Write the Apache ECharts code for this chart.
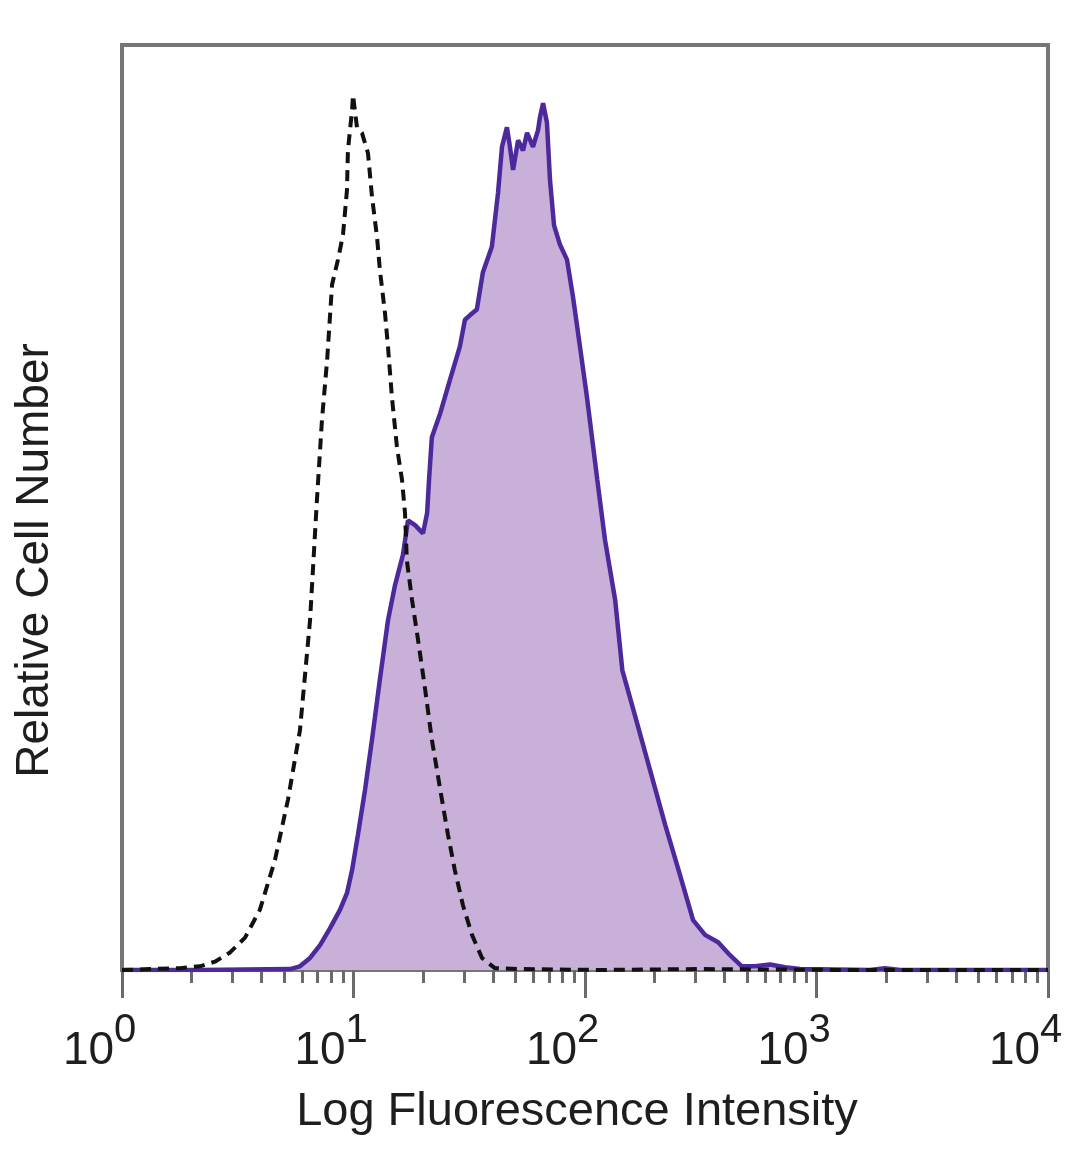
<!DOCTYPE html>
<html>
<head>
<meta charset="utf-8">
<script src="https://cdn.jsdelivr.net/npm/echarts@6/dist/echarts.min.js"></script>
<style>
html,body{margin:0;padding:0;background:#fff;}
#chart{width:1080px;height:1169px;}
</style>
</head>
<body>
<div id="chart"></div>
<script>
// Fluorescence intensity (x, log scale) and relative cell number (y, % of full scale)
const isotypeX = [1, 1.32, 1.78, 2.17, 2.52, 2.93, 3.40, 3.94, 4.58, 5.21, 5.87, 6.49, 6.95, 7.31, 7.69, 8.08, 8.57, 9.01, 9.37, 9.46, 9.86, 9.95, 10.35, 10.88, 11.55, 12.02, 12.64, 13.0, 13.68, 14.09, 14.66, 15.41, 16.2, 16.69, 17.0, 17.9, 19.0, 20.4, 21.8, 23.7, 25.6, 27.4, 29.7, 32.5, 35.9, 40.8, 52.4, 116, 314, 1396, 10000];
const isotypeY = [0, 0.1, 0.2, 0.4, 0.9, 1.9, 3.5, 6.5, 11.9, 18.4, 25.9, 37.8, 50.8, 59.5, 65.9, 74.1, 76.8, 79.5, 84.3, 88.6, 93.0, 94.6, 91.1, 90.5, 88.3, 83.6, 79.2, 75.7, 71.0, 67.4, 61.9, 56.5, 53.0, 49.4, 44.3, 40.0, 35.7, 30.3, 24.9, 19.5, 14.6, 10.8, 7.0, 3.8, 1.3, 0.2, 0.1, 0, 0.1, 0, 0];

const stainX = [1, 2.17, 5.32, 5.87, 6.49, 7.17, 7.91, 8.74, 9.37, 9.86, 10.45, 11.22, 12.02, 13.0, 14.09, 15.11, 16.36, 17.19, 18.44, 19.96, 20.8, 21.2, 21.8, 23.7, 26.1, 28.8, 30.3, 31.9, 34.1, 36.2, 39.6, 42.1, 43.8, 46.0, 47.4, 48.9, 51.4, 54.0, 56.2, 59.6, 62.7, 63.9, 65.9, 68.5, 70.6, 73.5, 78.0, 83.6, 88.7, 95.1, 102, 113, 122, 135, 145, 164, 191, 222, 257, 293, 330, 376, 423, 476, 542, 630, 731, 849, 1702, 1977, 2296, 10000];
const stainY = [0, 0, 0.1, 0.4, 1.3, 2.7, 4.5, 6.5, 8.3, 10.8, 14.6, 19.5, 24.9, 31.4, 37.8, 41.6, 44.9, 48.6, 48.1, 47.2, 49.4, 53.0, 57.6, 60.2, 63.8, 67.4, 70.3, 70.8, 71.4, 75.4, 78.2, 84.0, 89.0, 91.1, 89.0, 86.5, 89.7, 88.6, 90.5, 89.0, 90.8, 92.2, 93.7, 91.6, 85.4, 80.5, 78.4, 76.8, 72.8, 67.4, 61.9, 53.0, 46.5, 40.0, 32.4, 27.6, 21.6, 15.7, 10.3, 5.4, 3.8, 3.0, 1.6, 0.4, 0.4, 0.6, 0.3, 0.1, 0, 0.2, 0, 0];

const majorTicks = [1, 10, 100, 1000, 10000];
const minorTicks = [2, 3, 4, 5, 6, 7, 8, 9, 20, 30, 40, 50, 60, 70, 80, 90, 200, 300, 400, 500, 600, 700, 800, 900, 2000, 3000, 4000, 5000, 6000, 7000, 8000, 9000];
const xTitle = 'Log Fluorescence Intensity';
const yTitle = 'Relative Cell Number';

const FONT = "'Liberation Sans', Arial, sans-serif";
const tickStyle = { color: '#6a6a6a', width: 3 };

const chart = echarts.init(document.getElementById('chart'), null, { renderer: 'canvas' });
chart.setOption({
  animation: false,
  backgroundColor: '#ffffff',
  grid: {
    left: 122, right: 32, top: 45, bottom: 199,
    containLabel: false, outerBoundsMode: 'none',
    show: true, borderColor: '#767676', borderWidth: 4, backgroundColor: '#ffffff'
  },
  xAxis: [
    {
      type: 'log', logBase: 10, min: 1, max: 10000, position: 'bottom',
      axisLine: { show: false },
      splitLine: { show: false },
      axisTick: { show: true, customValues: minorTicks, length: 13, lineStyle: tickStyle },
      axisLabel: {
        show: true, customValues: majorTicks, margin: 41,
        formatter: function (v) {
          const e = Math.round(Math.log10(v));
          return '{b|10}{s|' + e + '}{p|}';
        },
        rich: {
          b: { fontSize: 46, fontFamily: FONT, color: '#1e1e1e', lineHeight: 63, verticalAlign: 'bottom', width: 51, align: 'left' },
          s: { fontSize: 40, fontFamily: FONT, color: '#1e1e1e', lineHeight: 40, verticalAlign: 'top', width: 25, align: 'left' },
          p: { width: 42 }
        }
      },
      name: xTitle, nameLocation: 'middle', nameGap: 119,
      nameTextStyle: { fontSize: 47, fontFamily: FONT, color: '#1e1e1e', padding: [0, 16, 0, 0] }
    },
    {
      type: 'log', logBase: 10, min: 1, max: 10000, position: 'bottom',
      axisLine: { show: false },
      splitLine: { show: false },
      axisTick: { show: true, customValues: majorTicks, length: 28, lineStyle: tickStyle },
      axisLabel: { show: false }
    }
  ],
  yAxis: {
    type: 'value', min: 0, max: 100,
    axisLine: { show: false }, axisTick: { show: false }, axisLabel: { show: false }, splitLine: { show: false },
    name: yTitle, nameLocation: 'middle', nameGap: 64, nameRotate: 90,
    nameTextStyle: { fontSize: 46, fontFamily: FONT, color: '#1e1e1e', padding: [0, 106, 0, 0] }
  },
  series: [
    {
      name: 'Stained', type: 'line', xAxisIndex: 0, showSymbol: false, smooth: false,
      data: stainX.map((x, i) => [x, stainY[i]]),
      lineStyle: { color: '#4d2a9c', width: 4.5 },
      areaStyle: { color: '#c9b0d9', opacity: 1, origin: 'start' },
      z: 2
    },
    {
      name: 'Isotype', type: 'line', xAxisIndex: 0, showSymbol: false, smooth: false,
      data: isotypeX.map((x, i) => [x, isotypeY[i]]),
      lineStyle: { color: '#111111', width: 4, type: [11, 7] },
      z: 3
    }
  ]
});
</script>
</body>
</html>
